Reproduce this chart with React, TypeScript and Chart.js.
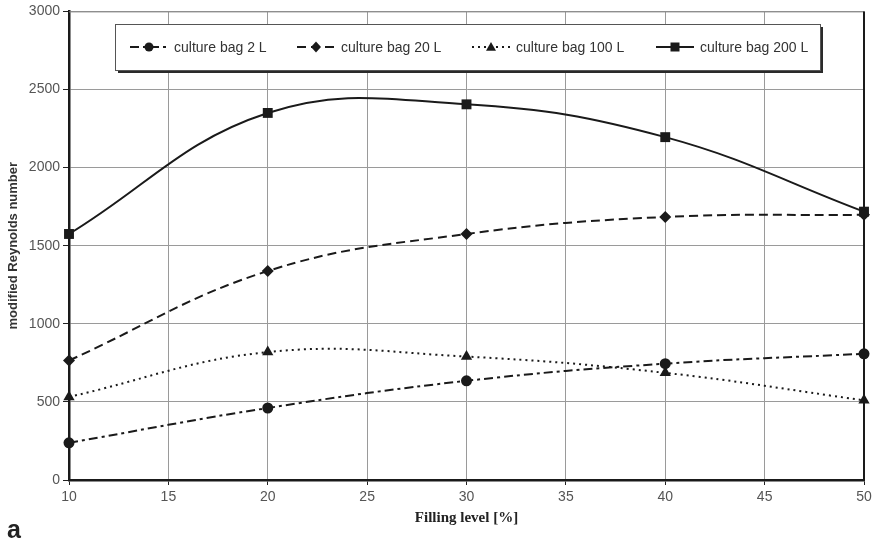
import React, { useEffect, useRef } from "react";
import { Chart, registerables } from "chart.js";

Chart.register(...registerables);

const fillingLevels = [10, 20, 30, 40, 50];
const seriesLabels = ["culture bag 2 L", "culture bag 20 L", "culture bag 100 L", "culture bag 200 L"];
const bag2L = [238, 461, 635, 745, 808];
const bag20L = [765, 1338, 1575, 1684, 1698];
const bag100L = [532, 819, 790, 686, 510];
const bag200L = [1575, 2350, 2405, 2195, 1718];
const xTicks = [10, 15, 20, 25, 30, 35, 40, 45, 50];
const yTicks = [0, 500, 1000, 1500, 2000, 2500, 3000];

const styles = [
  { dash: [9, 4, 3, 4], point: "circle", radius: 5.5, legendR: 4.5 },
  { dash: [9, 5], point: "rectRot", radius: 6, legendR: 5 },
  { dash: [2, 4], point: "triangle", radius: 6.5, legendR: 5 },
  { dash: [], point: "rect", radius: 7, legendR: 4.5 },
];

const legendItemX = [130, 297, 472, 656];

function drawMarker(ctx: CanvasRenderingContext2D, type: string, x: number, y: number, r: number) {
  ctx.beginPath();
  if (type === "circle") {
    ctx.arc(x, y, r, 0, Math.PI * 2);
  } else if (type === "rectRot") {
    ctx.moveTo(x, y - r * 1.1);
    ctx.lineTo(x + r, y);
    ctx.lineTo(x, y + r * 1.1);
    ctx.lineTo(x - r, y);
    ctx.closePath();
  } else if (type === "triangle") {
    ctx.moveTo(x, y - r);
    ctx.lineTo(x + r, y + r * 0.75);
    ctx.lineTo(x - r, y + r * 0.75);
    ctx.closePath();
  } else {
    ctx.rect(x - r, y - r, r * 2, r * 2);
  }
  ctx.fill();
}

const legendPlugin = {
  id: "boxLegend",
  afterDraw(chart: any) {
    const ctx = chart.ctx;
    const left = 115, top = 24, right = 820, bottom = 70;
    ctx.save();
    ctx.fillStyle = "#2a2a2a";
    ctx.fillRect(left + 3, top + 3, right - left, bottom - top);
    ctx.fillStyle = "#ffffff";
    ctx.fillRect(left, top, right - left, bottom - top);
    ctx.strokeStyle = "#555";
    ctx.lineWidth = 1;
    ctx.strokeRect(left + 0.5, top + 0.5, right - left, bottom - top);
    ctx.font = "14px 'Liberation Sans', Arial, sans-serif";
    ctx.textBaseline = "middle";
    const cy = 47;
    chart.data.datasets.forEach((ds: any, i: number) => {
      const st = styles[i];
      const x = legendItemX[i];
      ctx.strokeStyle = "#1a1a1a";
      ctx.lineWidth = 1.8;
      ctx.setLineDash(st.dash);
      ctx.beginPath();
      ctx.moveTo(x, cy);
      ctx.lineTo(x + 38, cy);
      ctx.stroke();
      ctx.setLineDash([]);
      ctx.fillStyle = "#1a1a1a";
      drawMarker(ctx, st.point, x + 19, cy, st.legendR);
      ctx.fillStyle = "#333";
      ctx.fillText(ds.label, x + 44, cy + 1);
    });
    ctx.fillStyle = "#222";
    ctx.font = "bold 25px 'Liberation Sans', Arial, sans-serif";
    ctx.textBaseline = "alphabetic";
    ctx.fillText("a", 7, 538);
    ctx.restore();
  },
};

const borderPlugin = {
  id: "plotBorder",
  beforeDatasetsDraw(chart: any) {
    const { ctx, chartArea } = chart;
    ctx.save();
    ctx.strokeStyle = "#888";
    ctx.lineWidth = 1;
    ctx.beginPath();
    ctx.moveTo(chartArea.left, chartArea.top + 0.5);
    ctx.lineTo(chartArea.right, chartArea.top + 0.5);
    ctx.stroke();
    ctx.strokeStyle = "#1a1a1a";
    ctx.lineWidth = 2;
    ctx.beginPath();
    ctx.moveTo(chartArea.right, chartArea.top);
    ctx.lineTo(chartArea.right, chartArea.bottom);
    ctx.stroke();
    ctx.restore();
  },
};

export default function App() {
  const ref = useRef<HTMLCanvasElement>(null);
  useEffect(() => {
    document.body.style.margin = "0";
    const series = [bag2L, bag20L, bag100L, bag200L];
    const chart = new Chart(ref.current as HTMLCanvasElement, {
      type: "line",
      data: {
        datasets: series.map((vals, i) => ({
          label: seriesLabels[i],
          data: vals.map((v, j) => ({ x: fillingLevels[j], y: v })),
          borderColor: "#1a1a1a",
          backgroundColor: "#1a1a1a",
          borderWidth: 2,
          borderDash: styles[i].dash,
          pointStyle: styles[i].point as any,
          pointRadius: styles[i].radius,
          pointBorderWidth: 0,
          tension: 0.4,
          clip: false as any,
        })),
      },
      options: {
        animation: false,
        responsive: false,
        layout: { padding: { top: 10, right: 12, left: 0, bottom: 0 } },
        plugins: { legend: { display: false }, tooltip: { enabled: false } },
        scales: {
          x: {
            type: "linear",
            min: 10,
            max: 50,
            afterBuildTicks: (s: any) => {
              s.ticks = xTicks.map((v) => ({ value: v }));
            },
            afterFit: (s: any) => {
              s.height = 63;
            },
            grid: { color: "#9a9a9a", lineWidth: 1, tickLength: 5, tickColor: "#222" },
            border: { color: "#1a1a1a", width: 2.5 },
            ticks: {
              color: "#555",
              font: { family: "'Liberation Sans', Arial, sans-serif", size: 14 },
              padding: 4,
              maxRotation: 0,
              callback: (v: any) => String(v),
            },
            title: {
              display: true,
              text: "Filling level [%]",
              color: "#222",
              font: { family: "'Liberation Serif', 'Times New Roman', serif", size: 15, weight: "bold" },
              padding: { top: 0, bottom: 16 },
            },
          },
          y: {
            min: 0,
            max: 3000,
            afterBuildTicks: (s: any) => {
              s.ticks = yTicks.map((v) => ({ value: v }));
            },
            afterFit: (s: any) => {
              s.width = 69;
            },
            grid: { color: "#9a9a9a", lineWidth: 1, tickLength: 6, tickColor: "#222" },
            border: { color: "#1a1a1a", width: 2.5 },
            ticks: {
              color: "#555",
              font: { family: "'Liberation Sans', Arial, sans-serif", size: 14 },
              padding: 3,
              callback: (v: any) => String(v),
            },
            title: {
              display: true,
              text: "modified Reynolds number",
              color: "#333",
              font: { family: "'Liberation Sans', Arial, sans-serif", size: 13, weight: "bold" },
              padding: { top: 6, bottom: 0 },
            },
          },
        },
      },
      plugins: [borderPlugin, legendPlugin],
    });
    return () => chart.destroy();
  }, []);
  return (
    <div style={{ position: "absolute", left: 0, top: 0, width: 876, height: 543, background: "#fff" }}>
      <canvas ref={ref} width={876} height={543} style={{ width: 876, height: 543 }} />
    </div>
  );
}
